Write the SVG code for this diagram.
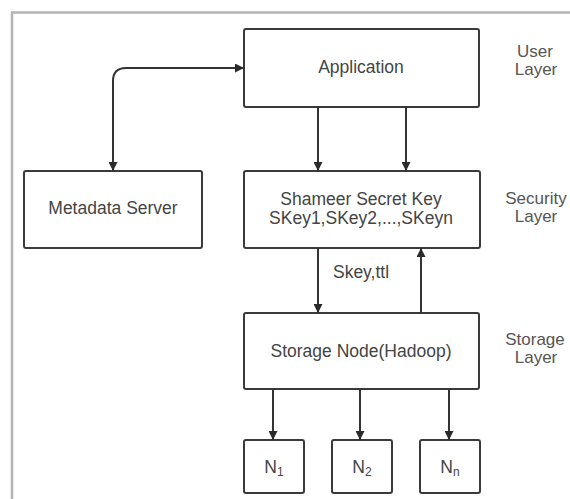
<svg xmlns="http://www.w3.org/2000/svg" width="570" height="499" viewBox="0 0 570 499">
  <defs>
    <marker id="arrow" viewBox="0 0 10 10" refX="10" refY="5" markerWidth="9" markerHeight="9" markerUnits="userSpaceOnUse" orient="auto-start-reverse">
      <path d="M0,0 L10,5 L0,10 z" fill="#2a2a2a"/>
    </marker>
  </defs>
  <style>
    .box { fill: #ffffff; stroke: #3a3a3a; stroke-width: 2; }
    .lbl { font-family: "Liberation Sans", Arial, sans-serif; font-size: 17.5px; fill: #444444; text-anchor: middle; }
    .side { font-family: "Liberation Sans", Arial, sans-serif; font-size: 17px; fill: #555555; text-anchor: middle; }
    .conn { fill: none; stroke: #333333; stroke-width: 2; }
  </style>
  <rect x="0" y="0" width="570" height="499" fill="#ffffff"/>
  <path d="M12,499 V12.5 H570" fill="none" stroke="#b4b4b4" stroke-width="2.5"/>

  <g id="application">
    <rect class="box" x="244" y="29" width="235" height="78" rx="2"/>
    <text class="lbl" x="361" y="73">Application</text>
  </g>
  <g id="metadata-server">
    <rect class="box" x="24" y="171" width="178" height="77" rx="2"/>
    <text class="lbl" x="113" y="214">Metadata Server</text>
  </g>
  <g id="shameer-secret-key">
    <rect class="box" x="244" y="171" width="236" height="77" rx="2"/>
    <text class="lbl" x="361" y="205">Shameer Secret Key</text>
    <text class="lbl" x="361" y="224">SKey1,SKey2,...,SKeyn</text>
  </g>
  <g id="storage-node">
    <rect class="box" x="244" y="313" width="235" height="76" rx="2"/>
    <text class="lbl" x="361" y="357">Storage Node(Hadoop)</text>
  </g>
  <g id="n1">
    <rect class="box" x="244" y="440" width="60" height="53" rx="2"/>
    <text class="lbl" x="274" y="473">N<tspan font-size="12" dy="3">1</tspan></text>
  </g>
  <g id="n2">
    <rect class="box" x="332" y="440" width="60" height="53" rx="2"/>
    <text class="lbl" x="362" y="473">N<tspan font-size="12" dy="3">2</tspan></text>
  </g>
  <g id="nn">
    <rect class="box" x="420" y="440" width="60" height="53" rx="2"/>
    <text class="lbl" x="450" y="473">N<tspan font-size="12" dy="3">n</tspan></text>
  </g>

  <g id="layer-labels">
    <text class="side" x="535" y="57">User</text>
    <text class="side" x="536" y="75">Layer</text>
    <text class="side" x="536" y="204">Security</text>
    <text class="side" x="536" y="222">Layer</text>
    <text class="side" x="535" y="345">Storage</text>
    <text class="side" x="536" y="363">Layer</text>
  </g>

  <g id="connectors">
    <path class="conn" d="M113,171 V81 Q113,68 126,68 H244" marker-start="url(#arrow)" marker-end="url(#arrow)"/>
    <path class="conn" d="M318,107 V171" marker-end="url(#arrow)"/>
    <path class="conn" d="M406,107 V171" marker-end="url(#arrow)"/>
    <path class="conn" d="M318,248 V313" marker-end="url(#arrow)"/>
    <path class="conn" d="M421,313 V248" marker-end="url(#arrow)"/>
    <text class="lbl" x="361" y="278">Skey,ttl</text>
    <path class="conn" d="M273,389 V440" marker-end="url(#arrow)"/>
    <path class="conn" d="M360,389 V440" marker-end="url(#arrow)"/>
    <path class="conn" d="M449,389 V440" marker-end="url(#arrow)"/>
  </g>
</svg>
